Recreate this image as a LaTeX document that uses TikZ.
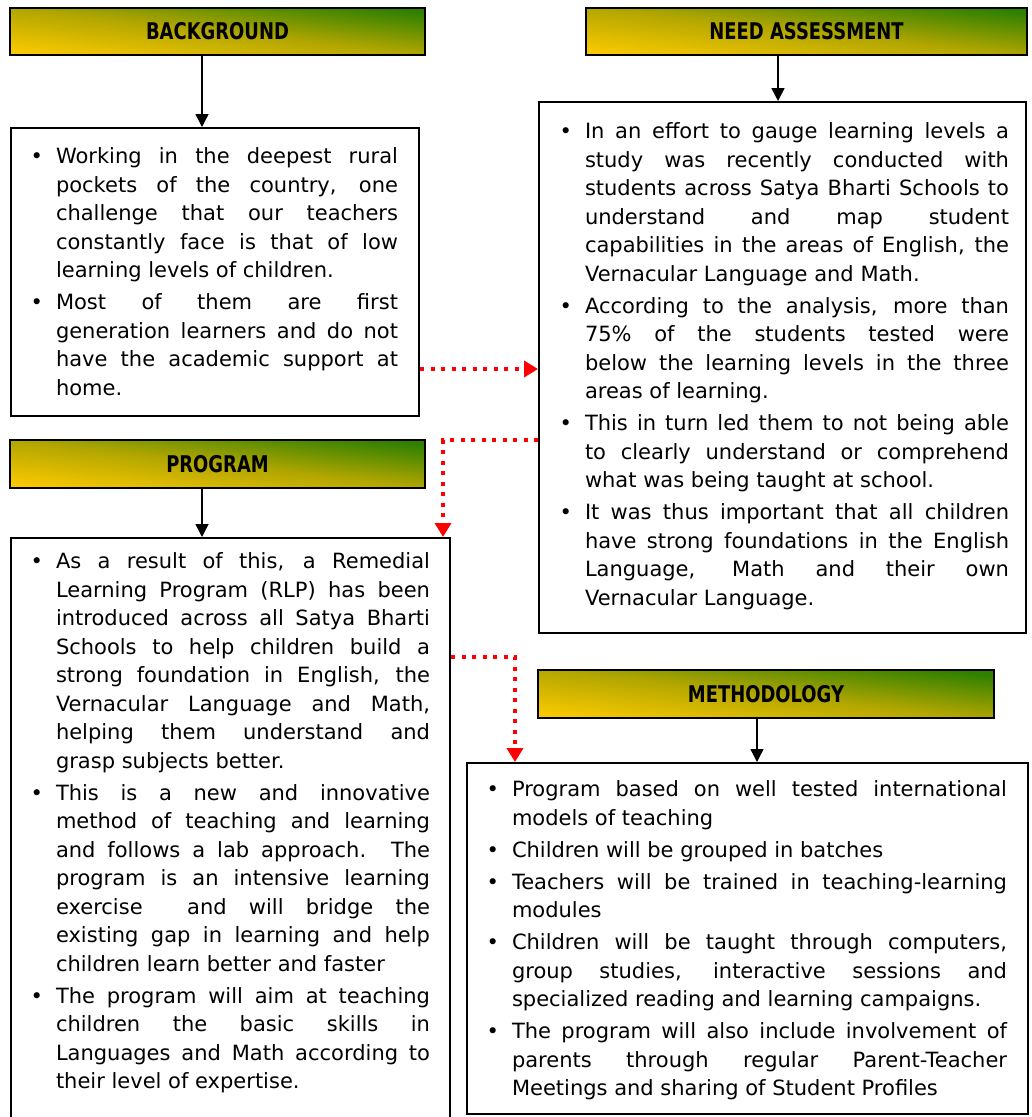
\documentclass[tikz,border=0pt]{standalone}
\usepackage{fontspec}
\setmainfont{DejaVu Sans}
\newfontfamily\headfont[FakeStretch=0.78]{DejaVu Sans}
\usetikzlibrary{positioning, arrows.meta}
\definecolor{myyellow}{RGB}{248,200,0}
\definecolor{myolive}{RGB}{178,166,0}
\definecolor{mygreen}{RGB}{46,128,0}
\definecolor{myred}{RGB}{255,0,0}
\hbadness=10000
\newenvironment{points}[2]{%
  \begin{list}{\textbullet}{%
    \setlength{\leftmargin}{#1}\setlength{\rightmargin}{#2}%
    \setlength{\labelsep}{13pt}\setlength{\labelwidth}{20pt}%
    \setlength{\itemsep}{3.5pt}\setlength{\parsep}{0pt}%
    \setlength{\topsep}{0pt}\setlength{\partopsep}{0pt}\setlength{\itemindent}{0pt}}}%
  {\end{list}}
\newcommand{\fl}[1]{\makebox[\linewidth][s]{#1}\\}
\newcommand{\boxtop}[1]{\hrule height 0pt width \hsize\relax\vspace*{#1}}
\tikzset{
  header/.style={draw, line width=2pt, minimum height=47, inner sep=0,
    top color=mygreen, bottom color=myyellow, middle color=myolive, shading angle=-6.5,
    font=\headfont\bfseries\fontsize{23}{26}\selectfont},
  textbox/.style={draw, line width=2pt, inner sep=0, anchor=north west,
    font=\fontsize{21}{28.5}\selectfont},
  blackarrow/.style={-{Triangle[width=13pt,length=13pt]}, line width=1.5pt},
  reddots/.style={-{Triangle[width=16pt,length=14pt]}, line width=4pt, color=myred,
    dash pattern=on 4pt off 6.5pt}
}

\begin{document}
\begin{tikzpicture}[x=1pt, y=-1pt]
\useasboundingbox (0,0) rectangle (1032,1117);

\node [header, minimum width=415] (hbg) at (217.5,31.5) {BACKGROUND};
\node [header, minimum width=441] (hneed) at (806.5,31.5) {NEED ASSESSMENT};
\node [header, minimum width=415, minimum height=48] (hprog) at (217.5,464) {PROGRAM};
\node [header, minimum width=456, minimum height=48] (hmeth) at (766,694) {METHODOLOGY};

\node [textbox] (bg) at (10,127) {\parbox[c][288pt][t]{408pt}{\boxtop{20pt}%
\begin{points}{45pt}{21pt}
\item \fl{Working in the deepest rural}
\fl{pockets of the country, one}
\fl{challenge that our teachers}
\fl{constantly face is that of low}
learning levels of children.
\item \fl{Most of them are first}
\fl{generation learners and do not}
\fl{have the academic support at}
home.
\end{points}}};

\node [textbox] (need) at (538,101) {\parbox[c][531pt][t]{487pt}{\boxtop{21pt}%
\begin{points}{46pt}{17pt}
\item \fl{In an effort to gauge learning levels a}
\fl{study was recently conducted with}
\fl{students across Satya Bharti Schools to}
\fl{understand and map student}
\fl{capabilities in the areas of English, the}
Vernacular Language and Math.
\item \fl{According to the analysis, more than}
\fl{75\% of the students tested were}
\fl{below the learning levels in the three}
areas of learning.
\item \fl{This in turn led them to not being able}
\fl{to clearly understand or comprehend}
what was being taught at school.
\item \fl{It was thus important that all children}
\fl{have strong foundations in the English}
\fl{Language, Math and their own}
Vernacular Language.
\end{points}}};

\node [textbox] (prog) at (10,537) {\parbox[c][588pt][t]{439pt}{\boxtop{15pt}%
\begin{points}{45pt}{20pt}
\item \fl{As a result of this, a Remedial}
\fl{Learning Program (RLP) has been}
\fl{introduced across all Satya Bharti}
\fl{Schools to help children build a}
\fl{strong foundation in English, the}
\fl{Vernacular Language and Math,}
\fl{helping them understand and}
grasp subjects better.
\item \fl{This is a new and innovative}
\fl{method of teaching and learning}
\fl{and follows a lab approach. The}
\fl{program is an intensive learning}
\fl{exercise\ \ and will bridge the}
\fl{existing gap in learning and help}
children learn better and faster
\item \fl{The program will aim at teaching}
\fl{children the basic skills in}
\fl{Languages and Math according to}
their level of expertise.
\end{points}}};

\node [textbox] (meth) at (466,762) {\parbox[c][351pt][t]{561pt}{\boxtop{18pt}%
\begin{points}{45pt}{21pt}
\item \fl{Program based on well tested international}
models of teaching
\item Children will be grouped in batches
\item \fl{Teachers will be trained in teaching-learning}
modules
\item \fl{Children will be taught through computers,}
\fl{group studies, interactive sessions and}
specialized reading and learning campaigns.
\item \fl{The program will also include involvement of}
\fl{parents through regular Parent-Teacher}
Meetings and sharing of Student Profiles
\end{points}}};

\draw[blackarrow] ([xshift=-15.5pt]hbg.south) -- ([xshift=-15.5pt]hbg.south |- bg.north);
\draw[blackarrow] ([xshift=-28.5pt]hneed.south) -- ([xshift=-28.5pt]hneed.south |- need.north);
\draw[blackarrow] ([xshift=-15.5pt]hprog.south) -- ([xshift=-15.5pt]hprog.south |- prog.north);
\draw[blackarrow] ([xshift=-9pt]hmeth.south) -- ([xshift=-9pt]hmeth.south |- meth.north);

\draw[reddots] ([yshift=-97pt]bg.east) -- ([yshift=-97pt]bg.east -| need.west);
\draw[reddots] ([yshift=-72.5pt]need.west) -| ([xshift=212.5pt]prog.north);
\draw[reddots] ([yshift=175pt]prog.east) -| ([xshift=-232.5pt]meth.north);

\end{tikzpicture}
\end{document}
